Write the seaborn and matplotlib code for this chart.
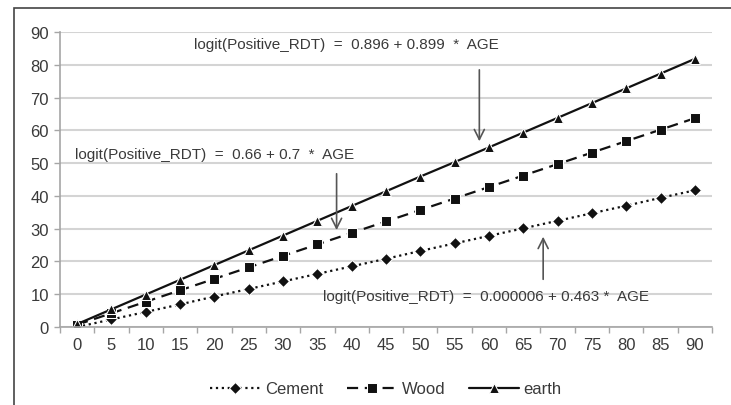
import matplotlib.pyplot as plt
import matplotlib.patches as mpatches
import pandas as pd
import seaborn as sns

# values
ages = [0, 5, 10, 15, 20, 25, 30, 35, 40, 45, 50, 55, 60, 65, 70, 75, 80, 85, 90]
cement = [0.0, 2.3, 4.6, 6.9, 9.3, 11.6, 13.9, 16.2, 18.5, 20.8, 23.2, 25.5,
          27.8, 30.1, 32.4, 34.7, 37.0, 39.4, 41.7]
wood = [0.7, 4.2, 7.7, 11.2, 14.7, 18.2, 21.7, 25.2, 28.7, 32.2, 35.7, 39.2,
        42.7, 46.2, 49.7, 53.2, 56.7, 60.2, 63.7]
earth = [0.9, 5.4, 9.9, 14.4, 18.9, 23.4, 27.9, 32.4, 36.9, 41.4, 45.9, 50.3,
         54.8, 59.3, 63.8, 68.3, 72.8, 77.3, 81.8]

series_names = ['Cement', 'Wood', 'earth']
equations = [
    'logit(Positive_RDT)  =  0.896 + 0.899  *  AGE',
    'logit(Positive_RDT)  =  0.66 + 0.7  *  AGE',
    'logit(Positive_RDT)  =  0.000006 + 0.463 *  AGE',
]

df = pd.DataFrame({
    'AGE': ages * 3,
    'value': cement + wood + earth,
    'Material': [n for n in series_names for _ in ages],
})

sns.set_theme(style="white")
plt.rcParams['font.family'] = ['Liberation Sans', 'DejaVu Sans']

fig = plt.figure(figsize=(7.31, 4.06), dpi=100)
ax = fig.add_axes([60 / 731, 78 / 406, 652 / 731, 295 / 406])

line_col = '#111111'
text_col = '#3a3a3a'
styles = {
    'Cement': dict(linestyle=':', marker='D', markersize=6),
    'Wood': dict(linestyle=(0, (5, 3)), marker='s', markersize=6.5),
    'earth': dict(linestyle='-', marker='^', markersize=7),
}
for name in series_names:
    sns.lineplot(data=df[df['Material'] == name], x='AGE', y='value', ax=ax,
                 color=line_col, linewidth=1.6, label=name, **styles[name])

ax.set_xlim(-2.5, 92.5)
ax.set_ylim(0, 90)
ax.set_xticks(ages)
ax.set_xticks([a - 2.5 for a in ages] + [92.5], minor=True)
ax.set_yticks(range(0, 91, 10))
ax.tick_params(axis='x', which='major', length=0, pad=7, labelsize=12, labelcolor=text_col)
ax.tick_params(axis='x', which='minor', length=4, width=1, color='#a6a6a6', bottom=True)
ax.tick_params(axis='y', length=4, width=1, color='#a6a6a6', left=True, pad=4,
               labelsize=12, labelcolor=text_col)
ax.yaxis.grid(True, color='#d4d4d4', linewidth=1.5)
ax.set_axisbelow(True)
for s in ['top', 'right']:
    ax.spines[s].set_visible(False)
for s in ['left', 'bottom']:
    ax.spines[s].set_color('#a6a6a6')
    ax.spines[s].set_linewidth(1.2)
ax.set_xlabel('')
ax.set_ylabel('')

# equations with arrows
arrow_kw = dict(arrowstyle='->', color='#555555', lw=1.2, mutation_scale=18)
ax.text(39.2, 86.3, equations[0], ha='center', va='center', fontsize=11, color=text_col)
ax.annotate('', xy=(58.6, 55.8), xytext=(58.6, 79.3), arrowprops=arrow_kw)
ax.text(20.0, 52.8, equations[1], ha='center', va='center', fontsize=11, color=text_col)
ax.annotate('', xy=(37.8, 28.7), xytext=(37.8, 47.6), arrowprops=arrow_kw)
ax.text(59.6, 9.5, equations[2], ha='center', va='center', fontsize=11, color=text_col)
ax.annotate('', xy=(67.9, 28.4), xytext=(67.9, 13.7), arrowprops=arrow_kw)

ax.legend(loc='center', bbox_to_anchor=(0.5, -0.21), ncol=3, frameon=False,
          fontsize=12, handlelength=3, columnspacing=1.4, handletextpad=0.3,
          labelcolor=text_col)

# outer frame (left and top edges visible)
fig.add_artist(mpatches.Rectangle((14 / 731, -0.1), 1.2, 1.1 - 9 / 406,
                                  transform=fig.transFigure, fill=False,
                                  edgecolor='#444444', linewidth=1.2))

fig.savefig('out.png', dpi=100)
